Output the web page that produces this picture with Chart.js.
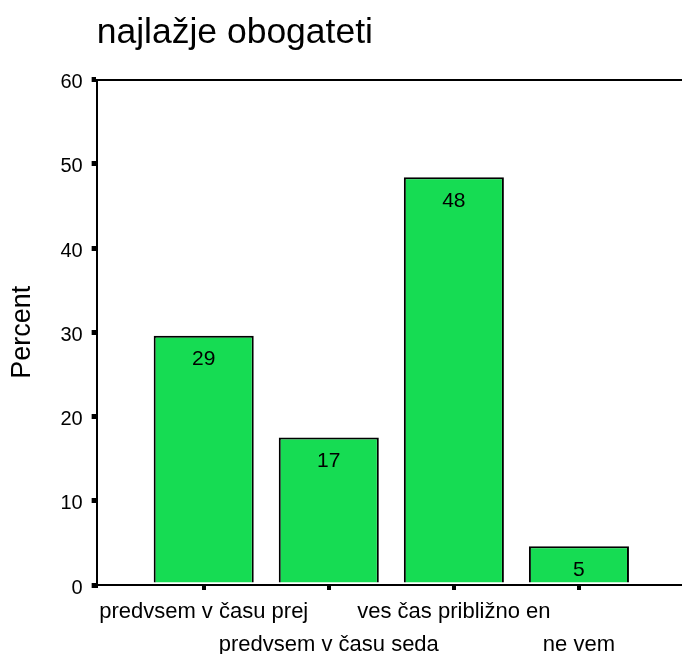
<!DOCTYPE html>
<html>
<head>
<meta charset="utf-8">
<script src="https://cdn.jsdelivr.net/npm/chart.js@4/dist/chart.umd.min.js"></script>
<style>
  html, body { margin: 0; padding: 0; background: #fff; overflow: hidden; }
  #wrap { position: relative; width: 682px; height: 654px; }
</style>
</head>
<body>
<div id="wrap"><canvas id="chartObogateti"></canvas></div>
<script>
'use strict';

// podatki
const categories = ['predvsem v času prej', 'predvsem v času seda', 'ves čas približno en', 'ne vem'];
const percentValues = [29.6, 17.5, 48.4, 4.6];
const barLabels = ['29', '17', '48', '5'];
const yTicks = [0, 10, 20, 30, 40, 50, 60];

const FONT = '"Liberation Sans", Arial, sans-serif';

const barLabelPlugin = {
  id: 'barLabels',
  afterDatasetsDraw(chart) {
    const ctx = chart.ctx;
    const meta = chart.getDatasetMeta(0);
    ctx.save();
    ctx.font = `21px ${FONT}`;
    ctx.fillStyle = '#000';
    ctx.textAlign = 'center';
    ctx.textBaseline = 'middle';
    meta.data.forEach((bar, i) => ctx.fillText(barLabels[i], bar.x, bar.y + 24));
    ctx.restore();
  }
};

function renderChart() {
  const ctx = document.getElementById('chartObogateti');
  if (!ctx) return;

  new Chart(ctx, {
    type: 'bar',
    data: {
      datasets: [{
        label: 'Percent',
        data: percentValues.map((v, i) => ({ x: i + 1, y: v })),
        backgroundColor: '#16dc53',
        borderColor: '#000',
        borderWidth: 2,
        borderSkipped: 'start',
        barPercentage: 0.8,
        categoryPercentage: 1
      }]
    },
    options: {
      responsive: true,
      maintainAspectRatio: false,
      animation: false,
      layout: { padding: { left: 0, right: 0, top: 0, bottom: -12 } },
      plugins: {
        legend: { display: false },
        tooltip: { enabled: false },
        title: {
          display: true,
          text: 'najlažje obogateti',
          align: 'start',
          fullSize: false,
          color: '#000',
          font: { family: FONT, size: 35.5, weight: 'normal' },
          padding: { top: 12, bottom: 25 }
        }
      },
      scales: {
        x: {
          type: 'linear',
          position: 'bottom',
          offset: false,
          min: 0.144,
          max: 4.824,
          afterBuildTicks: (axis) => { axis.ticks = categories.map((_, i) => ({ value: i + 1 })); },
          grid: { offset: false, drawOnChartArea: false, drawTicks: true, tickLength: 5, lineWidth: 4, color: '#000' },
          border: { display: true, color: '#000', width: 2 },
          ticks: {
            autoSkip: false,
            maxRotation: 0,
            minRotation: 0,
            padding: 5,
            color: '#000',
            font: { family: FONT, size: 22, lineHeight: 1.5 },
            callback: (value) => {
              const i = Math.round(value) - 1;
              return i % 2 === 0 ? categories[i] : ['', categories[i]];
            }
          }
        },
        xTop: {
          type: 'linear',
          position: 'top',
          offset: false,
          display: true,
          grid: { display: false, drawTicks: false },
          border: { display: true, color: '#000', width: 2 },
          ticks: { display: false }
        },
        y: {
          min: 0,
          max: 60,
          afterBuildTicks: (axis) => { axis.ticks = yTicks.map(v => ({ value: v })); },
          grid: { drawOnChartArea: false, drawTicks: true, tickLength: 5, lineWidth: 5, color: '#000' },
          border: { display: true, color: '#000', width: 2 },
          ticks: {
            padding: 9,
            labelOffset: 3,
            color: '#000',
            font: { family: FONT, size: 20 }
          },
          title: {
            display: true,
            text: 'Percent',
            color: '#000',
            font: { family: FONT, size: 27, weight: 'normal' },
            padding: { top: 6, bottom: 13 }
          }
        }
      }
    },
    plugins: [barLabelPlugin]
  });
}

renderChart();
</script>
</body>
</html>
